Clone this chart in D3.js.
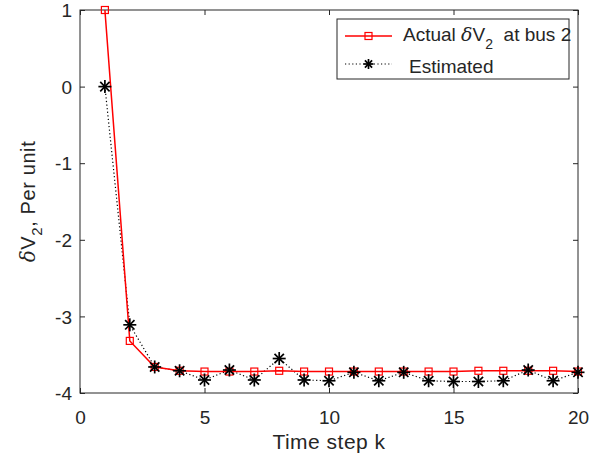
<!DOCTYPE html>
<html>
<head>
<meta charset="utf-8">
<script src="https://cdn.jsdelivr.net/npm/d3@7"></script>
<style>
  body { margin: 0; background: #fff; }
  text { font-family: "Liberation Sans", Arial, sans-serif; fill: #262626; white-space: pre; }
</style>
</head>
<body>
<div id="chart"></div>
<script>
var steps = [1, 2, 3, 4, 5, 6, 7, 8, 9, 10, 11, 12, 13, 14, 15, 16, 17, 18, 19, 20];
var actual = [1, -3.32, -3.66, -3.71, -3.72, -3.72, -3.72, -3.71, -3.72, -3.72,
  -3.72, -3.72, -3.72, -3.72, -3.72, -3.71, -3.71, -3.71, -3.71, -3.72];
var estimated = [0, -3.11, -3.66, -3.71, -3.83, -3.70, -3.83, -3.55, -3.83, -3.84,
  -3.73, -3.84, -3.73, -3.84, -3.85, -3.85, -3.84, -3.70, -3.84, -3.73];
var x_ticks = [0, 5, 10, 15, 20];
var y_ticks = [-4, -3, -2, -1, 0, 1];

var svg_width = 605, svg_height = 460;
var margin = {top: 10, right: 27, bottom: 67, left: 80};
var w = svg_width - margin.left - margin.right;
var h = svg_height - margin.top - margin.bottom;
var axis_color = "#262626";
var fmt = function(d) { return String(d); };

var svg = d3.select("#chart").append("svg")
  .attr("width", svg_width)
  .attr("height", svg_height);
var g = svg.append("g")
  .attr("transform", "translate(" + margin.left + "," + margin.top + ")");

var x = d3.scaleLinear().domain([0, 20]).range([0, w]);
var y = d3.scaleLinear().domain([-4, 1]).range([h, 0]);

// box with inward ticks on all sides
g.append("rect")
  .attr("width", w).attr("height", h)
  .attr("fill", "none").attr("stroke", axis_color).attr("stroke-width", 1);

function ticks(axis, sel, tv) {
  var a = axis.tickValues(tv).tickFormat(fmt).tickSizeInner(-5).tickSizeOuter(0);
  sel.call(a);
  sel.select(".domain").remove();
  sel.selectAll("line").attr("stroke", axis_color);
  return sel;
}
var xb = ticks(d3.axisBottom(x), g.append("g").attr("transform", "translate(0," + h + ")"), x_ticks);
xb.selectAll("text").attr("font-size", 19).attr("dy", 0).attr("y", 31).attr("fill", axis_color);
var xt = ticks(d3.axisTop(x), g.append("g"), x_ticks);
xt.selectAll("text").remove();
var yl = ticks(d3.axisLeft(y), g.append("g"), y_ticks);
yl.selectAll("text").attr("font-size", 19).attr("x", -8).attr("dy", "0.35em").attr("fill", axis_color);
var yr = ticks(d3.axisRight(y), g.append("g").attr("transform", "translate(" + w + ",0)"), y_ticks);
yr.selectAll("text").remove();

// axis labels
svg.append("text")
  .attr("x", margin.left + w / 2).attr("y", 449)
  .attr("text-anchor", "middle").attr("font-size", 21).attr("letter-spacing", 0.5)
  .text("Time step k");

var ylab = svg.append("text")
  .attr("transform", "translate(35," + (margin.top + h / 2) + ") rotate(-90)")
  .attr("text-anchor", "middle").attr("font-size", 20).attr("letter-spacing", 0.6);
ylab.append("tspan").attr("font-family", "'DejaVu Serif', serif").attr("font-style", "italic").text("δ");
ylab.append("tspan").text("V");
ylab.append("tspan").attr("font-size", 15).attr("dy", 7).text("2");
ylab.append("tspan").attr("dy", -7).text(", Per unit");

var line = d3.line()
  .x(function(d, i) { return x(steps[i]); })
  .y(function(d) { return y(d); });

// estimated: dotted black with asterisks
g.append("path").datum(estimated)
  .attr("d", line).attr("fill", "none")
  .attr("stroke", "#000").attr("stroke-width", 1.2).attr("stroke-dasharray", "1.2,2.4");

// actual: red line with squares
g.append("path").datum(actual)
  .attr("d", line).attr("fill", "none")
  .attr("stroke", "#ff0000").attr("stroke-width", 1.5);

function star(sel, cx, cy, r) {
  var s = sel.append("g").attr("transform", "translate(" + cx + "," + cy + ")")
    .attr("stroke", "#000").attr("stroke-width", 1.7);
  var d = r * 0.72;
  s.append("line").attr("x1", -r).attr("x2", r).attr("y1", 0).attr("y2", 0);
  s.append("line").attr("x1", 0).attr("x2", 0).attr("y1", -r).attr("y2", r);
  s.append("line").attr("x1", -d).attr("x2", d).attr("y1", -d).attr("y2", d);
  s.append("line").attr("x1", -d).attr("x2", d).attr("y1", d).attr("y2", -d);
}
function square(sel, cx, cy) {
  sel.append("rect").attr("x", cx - 3.5).attr("y", cy - 3.5)
    .attr("width", 7).attr("height", 7)
    .attr("fill", "none").attr("stroke", "#ff0000").attr("stroke-width", 1.2);
}

actual.forEach(function(d, i) { square(g, x(steps[i]), y(d)); });
estimated.forEach(function(d, i) { star(g, x(steps[i]), y(d), 6.5); });

// legend
var lg = svg.append("g").attr("transform", "translate(337,19)");
lg.append("rect").attr("width", 232).attr("height", 60)
  .attr("fill", "#fff").attr("stroke", axis_color).attr("stroke-width", 1);
lg.append("line").attr("x1", 8).attr("x2", 55).attr("y1", 17).attr("y2", 17)
  .attr("stroke", "#ff0000").attr("stroke-width", 1.5);
square(lg, 31.5, 17);
lg.append("line").attr("x1", 8).attr("x2", 55).attr("y1", 45).attr("y2", 45)
  .attr("stroke", "#000").attr("stroke-width", 1.2).attr("stroke-dasharray", "1.2,2.4");
star(lg, 31.5, 45, 5);
var t1 = lg.append("text").attr("x", 66).attr("y", 22).attr("font-size", 19);
t1.append("tspan").text("Actual ");
t1.append("tspan").attr("font-family", "'DejaVu Serif', serif").attr("font-style", "italic").text("δ");
t1.append("tspan").text("V");
t1.append("tspan").attr("font-size", 14).attr("dy", 8).text("2");
t1.append("tspan").attr("dy", -8).text("  at bus 2");
lg.append("text").attr("x", 72).attr("y", 54).attr("font-size", 19).text("Estimated");
</script>
</body>
</html>
